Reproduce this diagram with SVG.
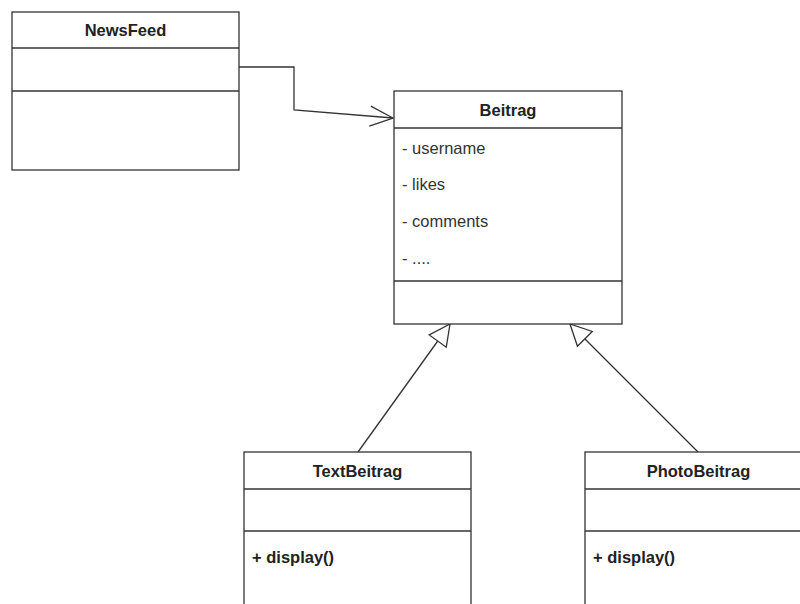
<svg xmlns="http://www.w3.org/2000/svg" width="800" height="604" viewBox="0 0 800 604">
<defs>
<style>
.box{fill:#fff;stroke:#333;stroke-width:1.3}
.sep{stroke:#333;stroke-width:1.3;fill:none}
.title{font-family:"Liberation Sans",Arial,sans-serif;font-size:16.5px;font-weight:bold;fill:#222;text-anchor:middle;dominant-baseline:central}
.attr{font-family:"Liberation Sans",Arial,sans-serif;font-size:16.5px;fill:#333;dominant-baseline:central}
.op{font-family:"Liberation Sans",Arial,sans-serif;font-size:16.5px;font-weight:bold;fill:#222;dominant-baseline:central}
.edge{fill:none;stroke:#333;stroke-width:1.3}
</style>
<marker id="open" markerUnits="userSpaceOnUse" viewBox="-25 -12 27 24" markerWidth="27" markerHeight="24" refX="0" refY="0" orient="auto">
<path d="M-23,-10 L0,0 L-23,10" fill="none" stroke="#333" stroke-width="1.3"/>
</marker>
<marker id="gen" markerUnits="userSpaceOnUse" viewBox="-23 -12 25 24" markerWidth="25" markerHeight="24" refX="0" refY="0" orient="auto">
<path d="M0,0 L-21,-10.5 L-21,10.5 Z" fill="#fff" stroke="#333" stroke-width="1.3"/>
</marker>
</defs>

<g id="connectors">
<path class="edge" d="M239,67 L294,67 L294,110 L393,118" marker-end="url(#open)"/>
<path class="edge" d="M358,452 L450,324" marker-end="url(#gen)"/>
<path class="edge" d="M698,452 L570,324" marker-end="url(#gen)"/>
</g>

<g id="NewsFeed">
<rect class="box" x="12" y="12" width="227" height="158"/>
<line class="sep" x1="12" y1="48" x2="239" y2="48"/>
<line class="sep" x1="12" y1="91" x2="239" y2="91"/>
<text class="title" x="125.5" y="30">NewsFeed</text>
</g>

<g id="Beitrag">
<rect class="box" x="394" y="91" width="228" height="233"/>
<line class="sep" x1="394" y1="128" x2="622" y2="128"/>
<line class="sep" x1="394" y1="281" x2="622" y2="281"/>
<text class="title" x="508" y="110">Beitrag</text>
<text class="attr" x="402" y="148">- username</text>
<text class="attr" x="402" y="184">- likes</text>
<text class="attr" x="402" y="221">- comments</text>
<text class="attr" x="402" y="258">- ....</text>
</g>

<g id="TextBeitrag">
<rect class="box" x="244" y="452" width="227" height="170"/>
<line class="sep" x1="244" y1="489" x2="471" y2="489"/>
<line class="sep" x1="244" y1="531" x2="471" y2="531"/>
<text class="title" x="357.5" y="471">TextBeitrag</text>
<text class="op" x="252" y="557">+ display()</text>
</g>

<g id="PhotoBeitrag">
<rect class="box" x="585" y="452" width="227" height="170"/>
<line class="sep" x1="585" y1="489" x2="812" y2="489"/>
<line class="sep" x1="585" y1="531" x2="812" y2="531"/>
<text class="title" x="698.5" y="471">PhotoBeitrag</text>
<text class="op" x="593" y="557">+ display()</text>
</g>
</svg>
